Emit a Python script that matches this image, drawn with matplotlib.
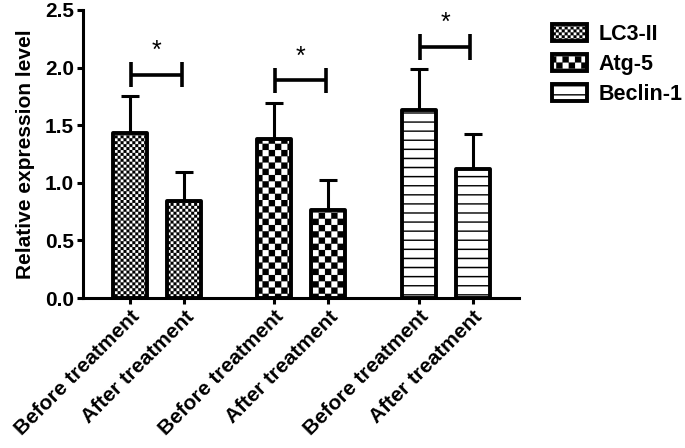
import warnings
import numpy as np
import matplotlib
matplotlib.use('Agg')
import matplotlib.pyplot as plt
import matplotlib.hatch as mhatch
from matplotlib.path import Path

warnings.filterwarnings('ignore')

# data
markers = ['LC3-II', 'Atg-5', 'Beclin-1']
conditions = ['Before treatment', 'After treatment']
means = [[1.43, 0.84], [1.38, 0.76], [1.63, 1.12]]
errors = [[0.32, 0.25], [0.31, 0.26], [0.36, 0.30]]
bracket_y = [1.94, 1.89, 2.18]
hatches = ['c', 'k', 'h']


# checkerboard and stripe hatches (filled squares / thin bands)
class CheckerHatch(mhatch.HatchPatternBase):
    def __init__(self, hatch, density):
        self.m = 34 if 'c' in hatch else (16 if 'k' in hatch else 0)
        self.num_vertices = (self.m * self.m // 2) * 5

    def set_vertices_and_codes(self, vertices, codes):
        m = self.m
        s = 1.0 / m
        sq = np.array([[0, 0], [s, 0], [s, s], [0, s], [0, 0]])
        parts = [sq + [i * s, j * s] for i in range(m) for j in range(m) if (i + j) % 2 == 0]
        vertices[:] = np.concatenate(parts)
        codes[:] = np.tile([Path.MOVETO, Path.LINETO, Path.LINETO, Path.LINETO, Path.CLOSEPOLY], len(parts))


class StripeHatch(mhatch.HatchPatternBase):
    def __init__(self, hatch, density):
        self.n = 11 if 'h' in hatch else 0
        self.num_vertices = self.n * 5

    def set_vertices_and_codes(self, vertices, codes):
        h = 0.013
        parts = []
        for k in range(self.n):
            y = (k + 0.5) / self.n
            parts.append(np.array([[0, y], [1, y], [1, y + h], [0, y + h], [0, y]]))
        vertices[:] = np.concatenate(parts)
        codes[:] = np.tile([Path.MOVETO, Path.LINETO, Path.LINETO, Path.LINETO, Path.CLOSEPOLY], self.n)


mhatch._hatch_types.append(CheckerHatch)
mhatch._hatch_types.append(StripeHatch)

plt.rcParams['font.family'] = ['Liberation Sans', 'DejaVu Sans']
plt.rcParams['font.weight'] = 'bold'
plt.rcParams['hatch.linewidth'] = 0.1

fig = plt.figure(figsize=(6.85, 4.48), dpi=100)
ax = fig.add_axes([0.1212, 0.3348, 0.6365, 0.6429])

group_step = 2.67
positions = []
labels = []
for g, name in enumerate(markers):
    xs = [g * group_step, g * group_step + 1]
    ax.bar(xs, means[g], width=0.63, color='white', edgecolor='black',
           linewidth=2.8, hatch=hatches[g], label=name, zorder=3,
           joinstyle='round')
    ax.errorbar(xs, means[g], yerr=[[0, 0], errors[g]], fmt='none',
                ecolor='black', elinewidth=2.2, capsize=6.5, capthick=2.2, zorder=2)
    # significance bracket
    yb = bracket_y[g]
    x0, x1 = xs[0] + 0.02, xs[1] - 0.04
    ax.plot([x0, x1], [yb, yb], color='black', lw=2.6, solid_capstyle='butt')
    ax.plot([x0, x0], [yb - 0.11, yb + 0.11], color='black', lw=2.6, solid_capstyle='butt')
    ax.plot([x1, x1], [yb - 0.11, yb + 0.11], color='black', lw=2.6, solid_capstyle='butt')
    ax.text((x0 + x1) / 2, yb + 0.1, '*', ha='center', va='bottom', fontsize=18,
            fontweight='normal')
    positions += xs
    labels += conditions

ax.set_xlim(-0.87, 7.2)
ax.set_ylim(0, 2.5)
ax.set_yticks(np.arange(0, 2.51, 0.5))
ax.set_yticklabels([f'{v:.1f}' for v in np.arange(0, 2.51, 0.5)], fontsize=15)
ax.set_xticks(positions)
ax.set_xticklabels(labels, rotation=45, ha='right', rotation_mode='anchor', fontsize=15)
ax.set_ylabel('Relative expression level', fontsize=15, fontweight='bold', labelpad=7)

for side in ['top', 'right']:
    ax.spines[side].set_visible(False)
for side in ['left', 'bottom']:
    ax.spines[side].set_linewidth(2.2)
ax.tick_params(width=2.2, length=4.5, pad=2)

fig.legend(loc='upper left', bbox_to_anchor=(0.778, 0.99), frameon=False,
           fontsize=15.5, handlelength=1.6, handleheight=0.8, handletextpad=0.55,
           labelspacing=0.42)

fig.savefig('out.png', dpi=100)
